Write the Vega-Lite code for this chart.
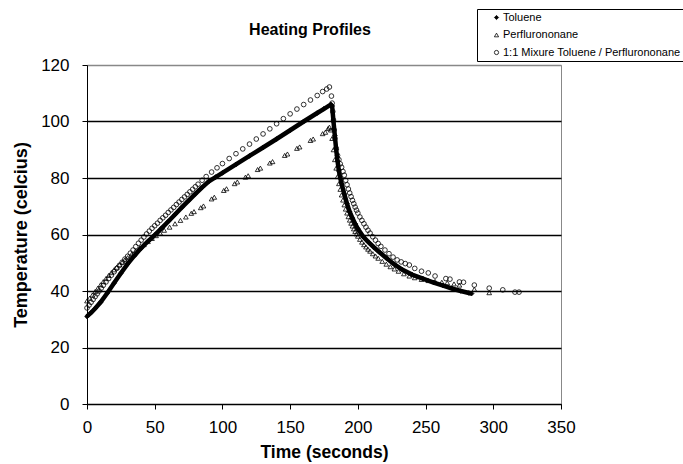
{
  "$schema": "https://vega.github.io/schema/vega-lite/v6.json",
  "width": 474,
  "height": 339,
  "autosize": {"type": "none"},
  "padding": {"left": 87, "top": 65, "right": 122, "bottom": 60},
  "background": "white",
  "config": {
    "font": "Liberation Sans",
    "view": {"stroke": "#888888", "strokeWidth": 1},
    "legend": {
      "orient": "none",
      "legendX": 390,
      "legendY": -56,
      "strokeColor": "black",
      "fillColor": "white",
      "padding": 3,
      "symbolOffset": 11,
      "labelOffset": 1,
      "labelFontSize": 11,
      "labelColor": "black",
      "labelLimit": 400,
      "rowPadding": 5.5,
      "symbolSize": 18,
      "symbolStrokeColor": "black",
      "symbolStrokeWidth": 0.8
    }
  },
  "title": {"text": "Heating Profiles", "fontSize": 16, "fontWeight": "bold", "color": "black", "anchor": "middle", "dx": -14, "offset": -42, "baseline": "alphabetic"},
  "data": {"values": [
    {"series": "Toluene", "time": 0, "temp": 31.0},
    {"series": "Toluene", "time": 3, "temp": 32.3},
    {"series": "Toluene", "time": 6, "temp": 33.8},
    {"series": "Toluene", "time": 10, "temp": 36.0},
    {"series": "Toluene", "time": 15, "temp": 39.3},
    {"series": "Toluene", "time": 20, "temp": 42.8},
    {"series": "Toluene", "time": 25, "temp": 46.3},
    {"series": "Toluene", "time": 30, "temp": 49.6},
    {"series": "Toluene", "time": 35, "temp": 52.5},
    {"series": "Toluene", "time": 40, "temp": 55.2},
    {"series": "Toluene", "time": 45, "temp": 57.6},
    {"series": "Toluene", "time": 50, "temp": 59.8},
    {"series": "Toluene", "time": 55, "temp": 62.2},
    {"series": "Toluene", "time": 60, "temp": 64.6},
    {"series": "Toluene", "time": 65, "temp": 67.1},
    {"series": "Toluene", "time": 70, "temp": 69.6},
    {"series": "Toluene", "time": 75, "temp": 72.0},
    {"series": "Toluene", "time": 80, "temp": 74.4},
    {"series": "Toluene", "time": 85, "temp": 76.7},
    {"series": "Toluene", "time": 90, "temp": 78.8},
    {"series": "Toluene", "time": 95, "temp": 80.3},
    {"series": "Toluene", "time": 100, "temp": 81.8},
    {"series": "Toluene", "time": 110, "temp": 84.8},
    {"series": "Toluene", "time": 120, "temp": 87.8},
    {"series": "Toluene", "time": 130, "temp": 90.8},
    {"series": "Toluene", "time": 140, "temp": 93.8},
    {"series": "Toluene", "time": 150, "temp": 96.9},
    {"series": "Toluene", "time": 160, "temp": 100.0},
    {"series": "Toluene", "time": 170, "temp": 103.0},
    {"series": "Toluene", "time": 175, "temp": 104.5},
    {"series": "Toluene", "time": 180, "temp": 106.0},
    {"series": "Toluene", "time": 181, "temp": 105.5},
    {"series": "Toluene", "time": 182, "temp": 100.0},
    {"series": "Toluene", "time": 183, "temp": 95.0},
    {"series": "Toluene", "time": 184, "temp": 90.0},
    {"series": "Toluene", "time": 185, "temp": 86.0},
    {"series": "Toluene", "time": 186, "temp": 82.5},
    {"series": "Toluene", "time": 187, "temp": 80.0},
    {"series": "Toluene", "time": 188, "temp": 78.0},
    {"series": "Toluene", "time": 190, "temp": 74.3},
    {"series": "Toluene", "time": 192, "temp": 70.9},
    {"series": "Toluene", "time": 194, "temp": 68.0},
    {"series": "Toluene", "time": 196, "temp": 65.8},
    {"series": "Toluene", "time": 198, "temp": 63.8},
    {"series": "Toluene", "time": 200, "temp": 62.0},
    {"series": "Toluene", "time": 204, "temp": 59.2},
    {"series": "Toluene", "time": 208, "temp": 57.2},
    {"series": "Toluene", "time": 212, "temp": 55.4},
    {"series": "Toluene", "time": 216, "temp": 53.7},
    {"series": "Toluene", "time": 221, "temp": 51.7},
    {"series": "Toluene", "time": 227, "temp": 49.4},
    {"series": "Toluene", "time": 233, "temp": 47.5},
    {"series": "Toluene", "time": 240, "temp": 45.8},
    {"series": "Toluene", "time": 248, "temp": 44.4},
    {"series": "Toluene", "time": 256, "temp": 43.0},
    {"series": "Toluene", "time": 263, "temp": 41.9},
    {"series": "Toluene", "time": 270, "temp": 40.8},
    {"series": "Toluene", "time": 276, "temp": 40.0},
    {"series": "Toluene", "time": 282, "temp": 39.3},
    {"series": "Toluene", "time": 284, "temp": 39.1},

    {"series": "Perflurononane", "time": 0, "temp": 36.5},
    {"series": "Perflurononane", "time": 2, "temp": 37.5},
    {"series": "Perflurononane", "time": 4, "temp": 38.6},
    {"series": "Perflurononane", "time": 6, "temp": 39.8},
    {"series": "Perflurononane", "time": 8, "temp": 41.0},
    {"series": "Perflurononane", "time": 10, "temp": 42.2},
    {"series": "Perflurononane", "time": 12, "temp": 43.3},
    {"series": "Perflurononane", "time": 14, "temp": 44.4},
    {"series": "Perflurononane", "time": 16, "temp": 45.5},
    {"series": "Perflurononane", "time": 18, "temp": 46.5},
    {"series": "Perflurononane", "time": 20, "temp": 47.5},
    {"series": "Perflurononane", "time": 22, "temp": 48.4},
    {"series": "Perflurononane", "time": 24, "temp": 49.3},
    {"series": "Perflurononane", "time": 26, "temp": 50.2},
    {"series": "Perflurononane", "time": 28, "temp": 51.0},
    {"series": "Perflurononane", "time": 30, "temp": 51.8},
    {"series": "Perflurononane", "time": 33, "temp": 53.0},
    {"series": "Perflurononane", "time": 36, "temp": 54.2},
    {"series": "Perflurononane", "time": 39, "temp": 55.3},
    {"series": "Perflurononane", "time": 42, "temp": 56.4},
    {"series": "Perflurononane", "time": 45, "temp": 57.5},
    {"series": "Perflurononane", "time": 48, "temp": 58.6},
    {"series": "Perflurononane", "time": 51, "temp": 59.6},
    {"series": "Perflurononane", "time": 54, "temp": 60.5},
    {"series": "Perflurononane", "time": 57, "temp": 61.5},
    {"series": "Perflurononane", "time": 61, "temp": 62.6},
    {"series": "Perflurononane", "time": 65, "temp": 63.8},
    {"series": "Perflurononane", "time": 69, "temp": 65.0},
    {"series": "Perflurononane", "time": 73, "temp": 66.2},
    {"series": "Perflurononane", "time": 77, "temp": 67.5},
    {"series": "Perflurononane", "time": 79, "temp": 68.1},
    {"series": "Perflurononane", "time": 84, "temp": 69.5},
    {"series": "Perflurononane", "time": 86, "temp": 70.1},
    {"series": "Perflurononane", "time": 92, "temp": 72.6},
    {"series": "Perflurononane", "time": 94, "temp": 73.2},
    {"series": "Perflurononane", "time": 101, "temp": 75.6},
    {"series": "Perflurononane", "time": 103, "temp": 76.2},
    {"series": "Perflurononane", "time": 109, "temp": 78.0},
    {"series": "Perflurononane", "time": 111, "temp": 78.6},
    {"series": "Perflurononane", "time": 117, "temp": 80.3},
    {"series": "Perflurononane", "time": 119, "temp": 80.8},
    {"series": "Perflurononane", "time": 126, "temp": 83.0},
    {"series": "Perflurononane", "time": 128, "temp": 83.5},
    {"series": "Perflurononane", "time": 135, "temp": 85.3},
    {"series": "Perflurononane", "time": 137, "temp": 85.8},
    {"series": "Perflurononane", "time": 146, "temp": 88.0},
    {"series": "Perflurononane", "time": 148, "temp": 88.5},
    {"series": "Perflurononane", "time": 155, "temp": 90.5},
    {"series": "Perflurononane", "time": 157, "temp": 91.0},
    {"series": "Perflurononane", "time": 165, "temp": 93.3},
    {"series": "Perflurononane", "time": 167, "temp": 93.8},
    {"series": "Perflurononane", "time": 174, "temp": 95.7},
    {"series": "Perflurononane", "time": 176, "temp": 96.2},
    {"series": "Perflurononane", "time": 178, "temp": 97.5},
    {"series": "Perflurononane", "time": 179, "temp": 98.0},
    {"series": "Perflurononane", "time": 180, "temp": 97.0},
    {"series": "Perflurononane", "time": 181, "temp": 94.0},
    {"series": "Perflurononane", "time": 182, "temp": 90.0},
    {"series": "Perflurononane", "time": 183, "temp": 86.5},
    {"series": "Perflurononane", "time": 184, "temp": 83.5},
    {"series": "Perflurononane", "time": 185, "temp": 80.5},
    {"series": "Perflurononane", "time": 186, "temp": 78.0},
    {"series": "Perflurononane", "time": 187, "temp": 76.0},
    {"series": "Perflurononane", "time": 188, "temp": 74.0},
    {"series": "Perflurononane", "time": 189, "temp": 72.2},
    {"series": "Perflurononane", "time": 190, "temp": 70.5},
    {"series": "Perflurononane", "time": 191, "temp": 69.0},
    {"series": "Perflurononane", "time": 192, "temp": 67.6},
    {"series": "Perflurononane", "time": 193, "temp": 66.3},
    {"series": "Perflurononane", "time": 194, "temp": 65.1},
    {"series": "Perflurononane", "time": 195, "temp": 64.0},
    {"series": "Perflurononane", "time": 196, "temp": 63.0},
    {"series": "Perflurononane", "time": 197, "temp": 62.0},
    {"series": "Perflurononane", "time": 198, "temp": 61.1},
    {"series": "Perflurononane", "time": 199, "temp": 60.2},
    {"series": "Perflurononane", "time": 200, "temp": 59.4},
    {"series": "Perflurononane", "time": 201.5, "temp": 58.3},
    {"series": "Perflurononane", "time": 203, "temp": 57.3},
    {"series": "Perflurononane", "time": 204.5, "temp": 56.4},
    {"series": "Perflurononane", "time": 206, "temp": 55.6},
    {"series": "Perflurononane", "time": 207.5, "temp": 54.8},
    {"series": "Perflurononane", "time": 209, "temp": 54.1},
    {"series": "Perflurononane", "time": 211, "temp": 53.2},
    {"series": "Perflurononane", "time": 213, "temp": 52.4},
    {"series": "Perflurononane", "time": 215, "temp": 51.6},
    {"series": "Perflurononane", "time": 218, "temp": 50.5},
    {"series": "Perflurononane", "time": 221, "temp": 49.5},
    {"series": "Perflurononane", "time": 224, "temp": 48.6},
    {"series": "Perflurononane", "time": 227, "temp": 47.8},
    {"series": "Perflurononane", "time": 230, "temp": 47.0},
    {"series": "Perflurononane", "time": 234, "temp": 46.1},
    {"series": "Perflurononane", "time": 238, "temp": 45.3},
    {"series": "Perflurononane", "time": 242, "temp": 44.7},
    {"series": "Perflurononane", "time": 247, "temp": 44.1},
    {"series": "Perflurononane", "time": 252, "temp": 43.7},
    {"series": "Perflurononane", "time": 257, "temp": 43.4},
    {"series": "Perflurononane", "time": 262, "temp": 43.1},
    {"series": "Perflurononane", "time": 266, "temp": 42.9},
    {"series": "Perflurononane", "time": 271, "temp": 42.5},
    {"series": "Perflurononane", "time": 275, "temp": 42.1},
    {"series": "Perflurononane", "time": 286, "temp": 40.6},
    {"series": "Perflurononane", "time": 297, "temp": 39.4},

    {"series": "1:1 Mixure Toluene / Perflurononane", "time": 0, "temp": 34.0},
    {"series": "1:1 Mixure Toluene / Perflurononane", "time": 1.5, "temp": 35.0},
    {"series": "1:1 Mixure Toluene / Perflurononane", "time": 3, "temp": 36.0},
    {"series": "1:1 Mixure Toluene / Perflurononane", "time": 4.5, "temp": 37.0},
    {"series": "1:1 Mixure Toluene / Perflurononane", "time": 6, "temp": 38.0},
    {"series": "1:1 Mixure Toluene / Perflurononane", "time": 7.5, "temp": 39.0},
    {"series": "1:1 Mixure Toluene / Perflurononane", "time": 9, "temp": 40.0},
    {"series": "1:1 Mixure Toluene / Perflurononane", "time": 10.5, "temp": 41.0},
    {"series": "1:1 Mixure Toluene / Perflurononane", "time": 12, "temp": 42.0},
    {"series": "1:1 Mixure Toluene / Perflurononane", "time": 14, "temp": 43.2},
    {"series": "1:1 Mixure Toluene / Perflurononane", "time": 16, "temp": 44.4},
    {"series": "1:1 Mixure Toluene / Perflurononane", "time": 18, "temp": 45.6},
    {"series": "1:1 Mixure Toluene / Perflurononane", "time": 20, "temp": 46.8},
    {"series": "1:1 Mixure Toluene / Perflurononane", "time": 22, "temp": 48.0},
    {"series": "1:1 Mixure Toluene / Perflurononane", "time": 24, "temp": 49.1},
    {"series": "1:1 Mixure Toluene / Perflurononane", "time": 26, "temp": 50.2},
    {"series": "1:1 Mixure Toluene / Perflurononane", "time": 28, "temp": 51.3},
    {"series": "1:1 Mixure Toluene / Perflurononane", "time": 30, "temp": 52.3},
    {"series": "1:1 Mixure Toluene / Perflurononane", "time": 32, "temp": 53.4},
    {"series": "1:1 Mixure Toluene / Perflurononane", "time": 34, "temp": 54.5},
    {"series": "1:1 Mixure Toluene / Perflurononane", "time": 36, "temp": 55.7},
    {"series": "1:1 Mixure Toluene / Perflurononane", "time": 38, "temp": 56.9},
    {"series": "1:1 Mixure Toluene / Perflurononane", "time": 40, "temp": 58.0},
    {"series": "1:1 Mixure Toluene / Perflurononane", "time": 42, "temp": 59.1},
    {"series": "1:1 Mixure Toluene / Perflurononane", "time": 44, "temp": 60.2},
    {"series": "1:1 Mixure Toluene / Perflurononane", "time": 46, "temp": 61.2},
    {"series": "1:1 Mixure Toluene / Perflurononane", "time": 48, "temp": 62.2},
    {"series": "1:1 Mixure Toluene / Perflurononane", "time": 50, "temp": 63.1},
    {"series": "1:1 Mixure Toluene / Perflurononane", "time": 52, "temp": 64.0},
    {"series": "1:1 Mixure Toluene / Perflurononane", "time": 54, "temp": 65.0},
    {"series": "1:1 Mixure Toluene / Perflurononane", "time": 56, "temp": 65.9},
    {"series": "1:1 Mixure Toluene / Perflurononane", "time": 58, "temp": 66.8},
    {"series": "1:1 Mixure Toluene / Perflurononane", "time": 60, "temp": 67.8},
    {"series": "1:1 Mixure Toluene / Perflurononane", "time": 62, "temp": 68.7},
    {"series": "1:1 Mixure Toluene / Perflurononane", "time": 64, "temp": 69.6},
    {"series": "1:1 Mixure Toluene / Perflurononane", "time": 66, "temp": 70.6},
    {"series": "1:1 Mixure Toluene / Perflurononane", "time": 68, "temp": 71.5},
    {"series": "1:1 Mixure Toluene / Perflurononane", "time": 70, "temp": 72.4},
    {"series": "1:1 Mixure Toluene / Perflurononane", "time": 72, "temp": 73.3},
    {"series": "1:1 Mixure Toluene / Perflurononane", "time": 74, "temp": 74.2},
    {"series": "1:1 Mixure Toluene / Perflurononane", "time": 76, "temp": 75.1},
    {"series": "1:1 Mixure Toluene / Perflurononane", "time": 78, "temp": 76.0},
    {"series": "1:1 Mixure Toluene / Perflurononane", "time": 80, "temp": 76.9},
    {"series": "1:1 Mixure Toluene / Perflurononane", "time": 82, "temp": 77.8},
    {"series": "1:1 Mixure Toluene / Perflurononane", "time": 85, "temp": 79.2},
    {"series": "1:1 Mixure Toluene / Perflurononane", "time": 88, "temp": 80.5},
    {"series": "1:1 Mixure Toluene / Perflurononane", "time": 92, "temp": 82.1},
    {"series": "1:1 Mixure Toluene / Perflurononane", "time": 96, "temp": 83.6},
    {"series": "1:1 Mixure Toluene / Perflurononane", "time": 100, "temp": 85.1},
    {"series": "1:1 Mixure Toluene / Perflurononane", "time": 105, "temp": 86.9},
    {"series": "1:1 Mixure Toluene / Perflurononane", "time": 110, "temp": 88.6},
    {"series": "1:1 Mixure Toluene / Perflurononane", "time": 115, "temp": 90.3},
    {"series": "1:1 Mixure Toluene / Perflurononane", "time": 120, "temp": 92.0},
    {"series": "1:1 Mixure Toluene / Perflurononane", "time": 125, "temp": 93.8},
    {"series": "1:1 Mixure Toluene / Perflurononane", "time": 130, "temp": 95.6},
    {"series": "1:1 Mixure Toluene / Perflurononane", "time": 135, "temp": 97.4},
    {"series": "1:1 Mixure Toluene / Perflurononane", "time": 140, "temp": 99.2},
    {"series": "1:1 Mixure Toluene / Perflurononane", "time": 145, "temp": 101.0},
    {"series": "1:1 Mixure Toluene / Perflurononane", "time": 150, "temp": 102.7},
    {"series": "1:1 Mixure Toluene / Perflurononane", "time": 155, "temp": 104.4},
    {"series": "1:1 Mixure Toluene / Perflurononane", "time": 160, "temp": 106.0},
    {"series": "1:1 Mixure Toluene / Perflurononane", "time": 165, "temp": 107.6},
    {"series": "1:1 Mixure Toluene / Perflurononane", "time": 170, "temp": 109.2},
    {"series": "1:1 Mixure Toluene / Perflurononane", "time": 174, "temp": 110.6},
    {"series": "1:1 Mixure Toluene / Perflurononane", "time": 177, "temp": 111.5},
    {"series": "1:1 Mixure Toluene / Perflurononane", "time": 179, "temp": 112.2},
    {"series": "1:1 Mixure Toluene / Perflurononane", "time": 180.5, "temp": 109.0},
    {"series": "1:1 Mixure Toluene / Perflurononane", "time": 181, "temp": 106.5},
    {"series": "1:1 Mixure Toluene / Perflurononane", "time": 181.5, "temp": 103.5},
    {"series": "1:1 Mixure Toluene / Perflurononane", "time": 182, "temp": 100.5},
    {"series": "1:1 Mixure Toluene / Perflurononane", "time": 182.5, "temp": 97.0},
    {"series": "1:1 Mixure Toluene / Perflurononane", "time": 183, "temp": 94.0},
    {"series": "1:1 Mixure Toluene / Perflurononane", "time": 184, "temp": 90.5},
    {"series": "1:1 Mixure Toluene / Perflurononane", "time": 185, "temp": 88.0},
    {"series": "1:1 Mixure Toluene / Perflurononane", "time": 186, "temp": 86.5},
    {"series": "1:1 Mixure Toluene / Perflurononane", "time": 187, "temp": 85.0},
    {"series": "1:1 Mixure Toluene / Perflurononane", "time": 188, "temp": 83.8},
    {"series": "1:1 Mixure Toluene / Perflurononane", "time": 189, "temp": 82.3},
    {"series": "1:1 Mixure Toluene / Perflurononane", "time": 190, "temp": 81.0},
    {"series": "1:1 Mixure Toluene / Perflurononane", "time": 191, "temp": 79.2},
    {"series": "1:1 Mixure Toluene / Perflurononane", "time": 192, "temp": 77.6},
    {"series": "1:1 Mixure Toluene / Perflurononane", "time": 193, "temp": 76.1},
    {"series": "1:1 Mixure Toluene / Perflurononane", "time": 194, "temp": 74.7},
    {"series": "1:1 Mixure Toluene / Perflurononane", "time": 195, "temp": 73.4},
    {"series": "1:1 Mixure Toluene / Perflurononane", "time": 196, "temp": 72.1},
    {"series": "1:1 Mixure Toluene / Perflurononane", "time": 197, "temp": 70.9},
    {"series": "1:1 Mixure Toluene / Perflurononane", "time": 198, "temp": 69.7},
    {"series": "1:1 Mixure Toluene / Perflurononane", "time": 199, "temp": 68.6},
    {"series": "1:1 Mixure Toluene / Perflurononane", "time": 200, "temp": 67.6},
    {"series": "1:1 Mixure Toluene / Perflurononane", "time": 201.5, "temp": 66.2},
    {"series": "1:1 Mixure Toluene / Perflurononane", "time": 203, "temp": 65.0},
    {"series": "1:1 Mixure Toluene / Perflurononane", "time": 204.5, "temp": 63.8},
    {"series": "1:1 Mixure Toluene / Perflurononane", "time": 206, "temp": 62.6},
    {"series": "1:1 Mixure Toluene / Perflurononane", "time": 207.5, "temp": 61.5},
    {"series": "1:1 Mixure Toluene / Perflurononane", "time": 209, "temp": 60.5},
    {"series": "1:1 Mixure Toluene / Perflurononane", "time": 211, "temp": 59.2},
    {"series": "1:1 Mixure Toluene / Perflurononane", "time": 213, "temp": 58.0},
    {"series": "1:1 Mixure Toluene / Perflurononane", "time": 215, "temp": 56.8},
    {"series": "1:1 Mixure Toluene / Perflurononane", "time": 217, "temp": 55.8},
    {"series": "1:1 Mixure Toluene / Perflurononane", "time": 220, "temp": 54.5},
    {"series": "1:1 Mixure Toluene / Perflurononane", "time": 223, "temp": 53.2},
    {"series": "1:1 Mixure Toluene / Perflurononane", "time": 226, "temp": 52.0},
    {"series": "1:1 Mixure Toluene / Perflurononane", "time": 229, "temp": 51.0},
    {"series": "1:1 Mixure Toluene / Perflurononane", "time": 232, "temp": 50.3},
    {"series": "1:1 Mixure Toluene / Perflurononane", "time": 235, "temp": 49.7},
    {"series": "1:1 Mixure Toluene / Perflurononane", "time": 238, "temp": 49.2},
    {"series": "1:1 Mixure Toluene / Perflurononane", "time": 242, "temp": 48.0},
    {"series": "1:1 Mixure Toluene / Perflurononane", "time": 247, "temp": 47.0},
    {"series": "1:1 Mixure Toluene / Perflurononane", "time": 252, "temp": 46.4},
    {"series": "1:1 Mixure Toluene / Perflurononane", "time": 257, "temp": 45.3},
    {"series": "1:1 Mixure Toluene / Perflurononane", "time": 265, "temp": 44.4},
    {"series": "1:1 Mixure Toluene / Perflurononane", "time": 268, "temp": 44.2},
    {"series": "1:1 Mixure Toluene / Perflurononane", "time": 275, "temp": 43.2},
    {"series": "1:1 Mixure Toluene / Perflurononane", "time": 278, "temp": 43.1},
    {"series": "1:1 Mixure Toluene / Perflurononane", "time": 286, "temp": 42.1},
    {"series": "1:1 Mixure Toluene / Perflurononane", "time": 297, "temp": 41.0},
    {"series": "1:1 Mixure Toluene / Perflurononane", "time": 307, "temp": 40.4},
    {"series": "1:1 Mixure Toluene / Perflurononane", "time": 316, "temp": 39.6},
    {"series": "1:1 Mixure Toluene / Perflurononane", "time": 319, "temp": 39.6}
  ]},
  "encoding": {
    "x": {
      "field": "time", "type": "quantitative",
      "scale": {"domain": [0, 350], "nice": false, "zero": false},
      "axis": {
        "title": "Time (seconds)",
        "values": [0, 50, 100, 150, 200, 250, 300, 350],
        "grid": false, "tickSize": 5, "tickColor": "black", "domainColor": "black",
        "labelFontSize": 17, "labelColor": "black", "labelPadding": 10, "labelFlush": false, "labelOverlap": false,
        "titleFontSize": 17.5, "titleFontWeight": "bold", "titleColor": "black", "titlePadding": 8
      }
    },
    "y": {
      "field": "temp", "type": "quantitative",
      "scale": {"domain": [0, 120], "nice": false},
      "axis": {
        "title": "Temperature (celcius)",
        "values": [0, 20, 40, 60, 80, 100, 120],
        "grid": true,
        "gridColor": {"condition": {"test": "datum.value === 120", "value": "#888888"}, "value": "black"},
        "gridWidth": 1.3,
        "tickSize": 5, "tickColor": "black", "domainColor": "black",
        "labelFontSize": 17, "labelColor": "black", "labelPadding": 13,
        "titleFontSize": 18, "titleFontWeight": "bold", "titleColor": "black", "titlePadding": 10
      }
    }
  },
  "layer": [
    {
      "transform": [{"filter": "datum.series === 'Toluene'"}],
      "mark": {"type": "line", "color": "black", "strokeWidth": 4.5},
      "encoding": {}
    },
    {
      "mark": {"type": "point", "strokeWidth": 0.8, "size": 22, "opacity": 1},
      "encoding": {
        "shape": {
          "field": "series", "type": "nominal",
          "scale": {"domain": ["Toluene", "Perflurononane", "1:1 Mixure Toluene / Perflurononane"], "range": ["diamond", "triangle-up", "circle"]},
          "legend": {"title": null}
        },
        "fill": {
          "field": "series", "type": "nominal",
          "scale": {"domain": ["Toluene", "Perflurononane", "1:1 Mixure Toluene / Perflurononane"], "range": ["black", "transparent", "transparent"]},
          "legend": {"title": null}
        },
        "stroke": {
          "field": "series", "type": "nominal",
          "scale": {"domain": ["Toluene", "Perflurononane", "1:1 Mixure Toluene / Perflurononane"], "range": ["black", "black", "black"]},
          "legend": {"title": null}
        }
      }
    }
  ]
}
